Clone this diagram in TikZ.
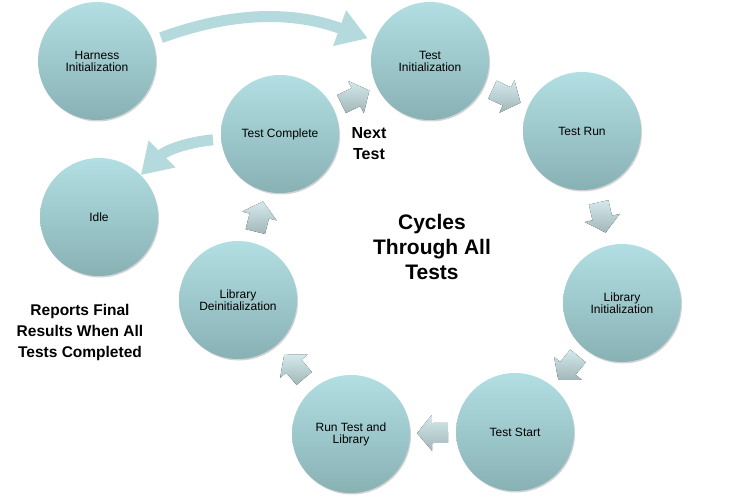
\documentclass[tikz,border=0pt]{standalone}
\usepackage{fontspec}
\setmainfont{Liberation Sans}
\usetikzlibrary{arrows.meta,shadows}
\definecolor{circtop}{HTML}{B2DFE3}
\definecolor{circbot}{HTML}{88B1B4}
\definecolor{bandcol}{HTML}{B5DADD}
\definecolor{chevtop}{HTML}{D3E9EB}
\definecolor{chevbot}{HTML}{A3B7B9}

\begin{document}
\begin{tikzpicture}[x=1pt,y=1pt]
		\tikzstyle{state}=[circle, minimum size=118pt, inner sep=0pt, top color=circtop, bottom color=circbot, drop shadow={shadow xshift=1pt,shadow yshift=-1.5pt,opacity=0.35}, align=center, font=\fontsize{12}{12}\selectfont]
		\tikzstyle{band}=[line width=11pt, bandcol, -{Triangle[width=36pt,length=30pt]}]
		\tikzstyle{note}=[align=center, font=\bfseries\fontsize{16}{21}\selectfont]
		\tikzset{chev/.pic={\fill[top color=chevtop, bottom color=chevbot] (-15,-10) -- (1,-10) -- (1,-18) -- (16,0) -- (1,18) -- (1,10) -- (-15,10) -- cycle;}}
		\useasboundingbox (0,0) rectangle (741,499);
		\node[state] (hi) at (97,438) {Harness\\Initialization};
		\node[state] (ti) at (430,438) {Test\\Initialization};
		\node[state] (tr) at (582,368) {Test Run};
		\node[state] (li) at (622,196) {Library\\Initialization};
		\node[state] (ts) at (515,67) {Test Start};
		\node[state] (rt) at (351,65) {Run Test and\\Library};
		\node[state] (ld) at (238,199) {Library\\Deinitialization};
		\node[state] (tc) at (280,365) {Test Complete};
		\node[state] (idle) at (99,282) {Idle};
		\draw[band, shorten <=9pt, shorten >=7pt] (hi) to[out=20,in=160] (ti);
		\draw[band, shorten <=8pt, shorten >=0pt] (tc) to[out=185,in=45] (idle);
		\path (tc) -- (ti) pic[pos=0.5, sloped, allow upside down] {chev};
		\path (ti) -- (tr) pic[pos=0.5, sloped, allow upside down] {chev};
		\path (tr) -- (li) pic[pos=0.5, sloped, allow upside down] {chev};
		\path (li) -- (ts) pic[pos=0.5, sloped, allow upside down] {chev};
		\path (ts) -- (rt) pic[pos=0.5, sloped, allow upside down] {chev};
		\path (rt) -- (ld) pic[pos=0.5, sloped, allow upside down] {chev};
		\path (ld) -- (tc) pic[pos=0.5, sloped, allow upside down] {chev};
		\node[note] (next) at (369,355) {Next\\Test};
		\node[note, font=\bfseries\fontsize{21}{25}\selectfont] (cycle) at (432,252) {Cycles\\Through All\\Tests};
		\node[note, font=\bfseries\fontsize{15.5}{21}\selectfont] (report) at (80,167) {Reports Final\\Results When All\\Tests Completed};
\end{tikzpicture}
\end{document}
